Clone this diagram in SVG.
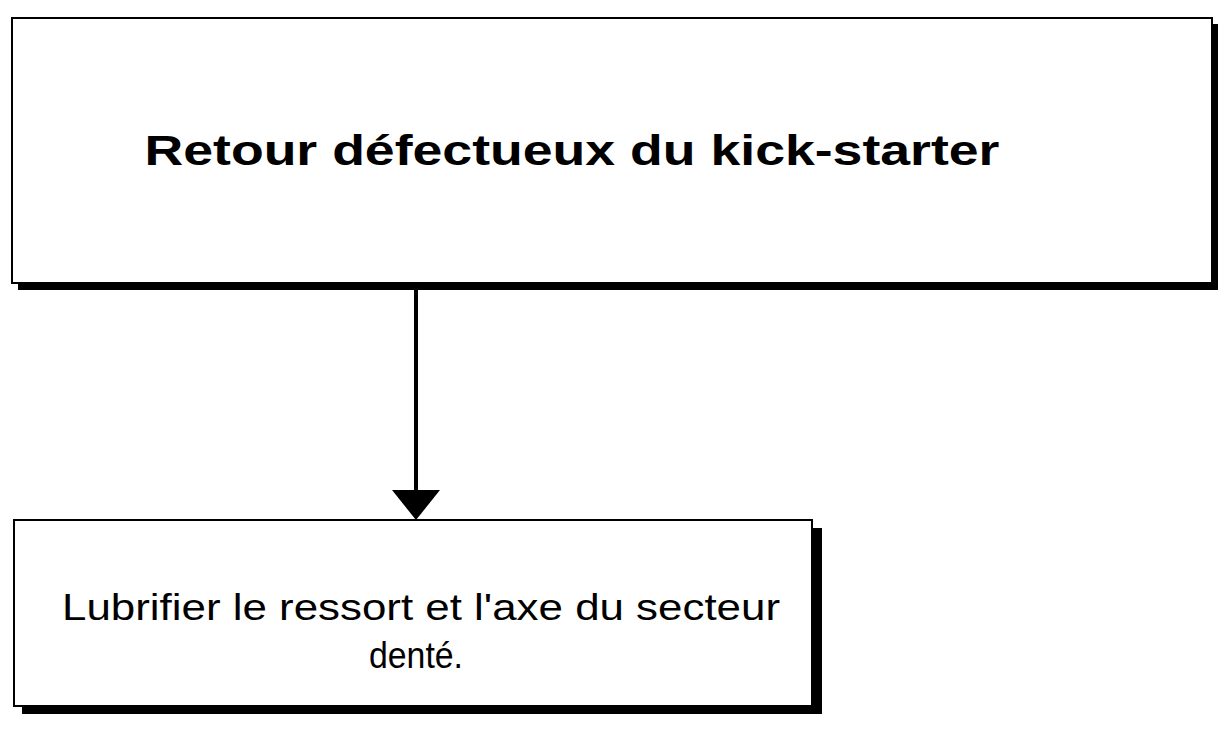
<svg xmlns="http://www.w3.org/2000/svg" width="1224" height="737" viewBox="0 0 1224 737">
<style>
.box{fill:#fff;stroke:#000;stroke-width:2}
.sh{fill:#000}
.t{font-family:"Liberation Sans",Arial,sans-serif;fill:#000;text-anchor:middle}
</style>
<rect width="1224" height="737" fill="#fff"/>
<g id="n1">
<rect class="sh" x="18" y="24" width="1200" height="266"/>
<rect class="box" x="12" y="18" width="1200" height="265"/>
<text class="t" x="572" y="165" font-size="42" font-weight="bold" textLength="855" lengthAdjust="spacingAndGlyphs">Retour défectueux du kick-starter</text>
</g>
<g id="n2">
<rect class="sh" x="22" y="528" width="800" height="186"/>
<rect class="box" x="14" y="520" width="798" height="186"/>
<text class="t" x="421" y="620" font-size="36" textLength="718" lengthAdjust="spacingAndGlyphs">Lubrifier le ressort et  l'axe du secteur</text>
<text class="t" x="416" y="668" font-size="36" textLength="94" lengthAdjust="spacingAndGlyphs">denté.</text>
</g>
<g id="connectors">
<path d="M416,290 V492" stroke="#000" stroke-width="4"/>
<path d="M392,490 L440,490 L416,520 Z" fill="#000"/>
</g>
</svg>
